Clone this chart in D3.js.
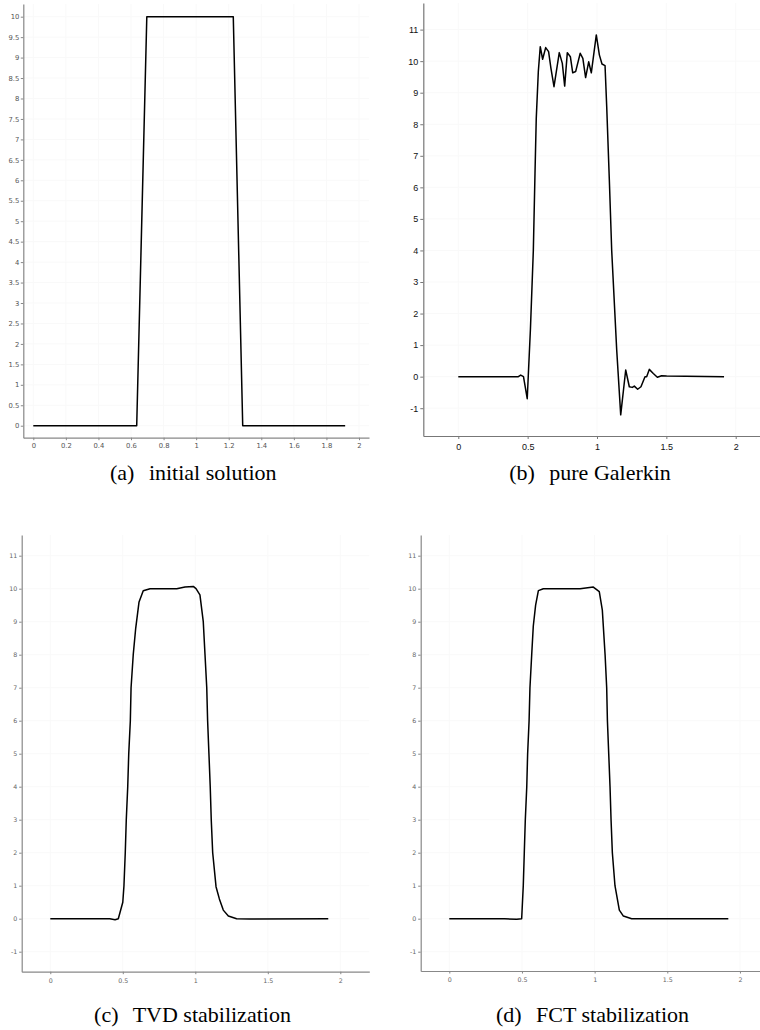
<!DOCTYPE html>
<html>
<head>
<meta charset="utf-8">
<script src="https://cdn.jsdelivr.net/npm/d3@7"></script>
<style>
  html, body { margin: 0; padding: 0; background: #fff; }
  svg { display: block; }
  .cap { font-family: "Liberation Serif", "Times New Roman", Times, "DejaVu Serif", serif; font-size: 22px; }
</style>
</head>
<body>
<svg id="chart" width="760" height="1030"></svg>
<script>
// ---------------- data ----------------
const xTicksA = [0, 0.2, 0.4, 0.6, 0.8, 1, 1.2, 1.4, 1.6, 1.8, 2];
const yTicksA = [0, 0.5, 1, 1.5, 2, 2.5, 3, 3.5, 4, 4.5, 5, 5.5, 6, 6.5, 7, 7.5, 8, 8.5, 9, 9.5, 10];
const xTicksB = [0, 0.5, 1, 1.5, 2];
const yTicksB = [-1, 0, 1, 2, 3, 4, 5, 6, 7, 8, 9, 10, 11];

const initialX = [0, 0.635, 0.697, 1.228, 1.286, 1.915];
const initialY = [0, 0, 10, 10, 0, 0];

const galerkinX = [0, 0.433, 0.45, 0.47, 0.497, 0.52, 0.541, 0.553, 0.562, 0.577, 0.591, 0.608, 0.630, 0.651, 0.668, 0.690,
  0.728, 0.750, 0.767, 0.786, 0.808, 0.825, 0.846, 0.879, 0.898, 0.918, 0.940, 0.959, 0.995, 1.017, 1.036, 1.058,
  1.070, 1.089, 1.106, 1.142, 1.171, 1.207, 1.233, 1.255, 1.269, 1.293, 1.317, 1.346, 1.358, 1.377, 1.406, 1.435,
  1.466, 1.502, 1.916];
const galerkinY = [0, 0, 0.05, 0.0, -0.7, 1.5, 4.0, 6.45, 8.17, 9.67, 10.46, 10.06, 10.43, 10.3, 9.77, 9.19,
  10.27, 9.93, 9.21, 10.27, 10.14, 9.63, 9.67, 10.25, 10.09, 9.48, 9.98, 9.63, 10.83, 10.2, 9.91, 9.86,
  8.56, 6.23, 4.0, 0.85, -1.21, 0.21, -0.32, -0.34, -0.3, -0.4, -0.32, 0, 0, 0.23, 0.1, -0.02,
  0.03, 0.02, 0];

const tvdX = [0, 0.41, 0.447, 0.469, 0.5, 0.508, 0.517, 0.524, 0.534, 0.541, 0.552, 0.557, 0.572, 0.589, 0.612, 0.641,
  0.688, 0.872, 0.929, 0.986, 1.005, 1.032, 1.055, 1.067, 1.079, 1.085, 1.094, 1.103, 1.11, 1.12, 1.143, 1.166,
  1.193, 1.228, 1.285, 1.377, 1.917];
const tvdY = [0, 0, -0.03, 0, 0.5, 1, 2, 3, 4, 5, 6, 7, 8, 8.8, 9.6, 9.94,
  10.0, 10.0, 10.05, 10.07, 10.0, 9.81, 9.0, 8, 7, 6, 5, 4, 3, 2, 0.97, 0.6,
  0.26, 0.08, 0.0, -0.01, 0];

const fctX = [0, 0.38, 0.464, 0.498, 0.509, 0.516, 0.523, 0.533, 0.539, 0.549, 0.555, 0.567, 0.578, 0.594, 0.613, 0.647,
  0.9, 0.991, 1.032, 1.053, 1.072, 1.083, 1.088, 1.097, 1.106, 1.113, 1.122, 1.14, 1.17, 1.198, 1.255, 1.92];
const fctY = [0, 0, -0.02, 0, 1, 2, 3, 4, 5, 6, 7, 8, 8.87, 9.5, 9.94, 10.0,
  10.0, 10.05, 9.91, 9.35, 8, 7, 6, 5, 4, 3, 2, 1, 0.26, 0.08, 0, 0];

const captions = [["(a)", "initial solution"], ["(b)", "pure Galerkin"], ["(c)", "TVD stabilization"], ["(d)", "FCT stabilization"]];

// ---------------- layout ----------------
const svg = d3.select("#chart");

const panels = [
  { xs: initialX, ys: initialY, xt: xTicksA, yt: yTicksA, cap: captions[0],
    xr: [23.3, 369], xd: [-0.0614, 2.0614], yr: [437.7, 4], yd: [-0.293, 10.31],
    font: "DejaVu Sans", fs: 6.8, lc: "#555", ac: "#888", ts: 2.5, pad: 1.5, xpad: 3,
    capX: 193.3, capY: 480 },
  { xs: galerkinX, ys: galerkinY, xt: xTicksB, yt: yTicksB, cap: captions[1],
    xr: [423.3, 760], xd: [-0.2523, 2.1752], yr: [436, 3], yd: [-1.881, 11.843],
    font: "Liberation Sans", fs: 9, lc: "#111", ac: "#777", ts: 3, pad: 2, xpad: 5,
    capX: 590, capY: 480 },
  { xs: tvdX, ys: tvdY, xt: xTicksB, yt: yTicksB, cap: captions[2],
    xr: [21.7, 369.3], xd: [-0.1972, 2.2], yr: [971.7, 535], yd: [-1.606, 11.627],
    font: "DejaVu Sans", fs: 6.3, lc: "#666", ac: "#888", ts: 2.5, pad: 2, xpad: 4,
    capX: 192.5, capY: 1021.5 },
  { xs: fctX, ys: fctY, xt: xTicksB, yt: yTicksB, cap: captions[3],
    xr: [420.7, 768], xd: [-0.1968, 2.193], yr: [971, 535], yd: [-1.585, 11.627],
    font: "DejaVu Sans", fs: 6.3, lc: "#666", ac: "#888", ts: 2.5, pad: 2, xpad: 4,
    capX: 592.5, capY: 1021.5 }
];

panels.forEach(p => {
  const x = d3.scaleLinear().domain(p.xd).range(p.xr);
  const y = d3.scaleLinear().domain(p.yd).range(p.yr);
  const g = svg.append("g");

  // very faint grid
  g.append("g").selectAll("line").data(p.xt).join("line")
    .attr("x1", d => x(d)).attr("x2", d => x(d))
    .attr("y1", p.yr[0]).attr("y2", p.yr[1])
    .attr("stroke", "#f9f9f9").attr("stroke-width", 1);
  g.append("g").selectAll("line").data(p.yt).join("line")
    .attr("y1", d => y(d)).attr("y2", d => y(d))
    .attr("x1", p.xr[0]).attr("x2", p.xr[1])
    .attr("stroke", "#f9f9f9").attr("stroke-width", 1);

  const xAxis = d3.axisBottom(x).tickValues(p.xt).tickFormat(d => String(d))
    .tickSizeInner(p.ts).tickSizeOuter(0).tickPadding(p.xpad);
  const yAxis = d3.axisLeft(y).tickValues(p.yt).tickFormat(d => String(d))
    .tickSizeInner(p.ts).tickSizeOuter(0).tickPadding(p.pad);

  const gx = g.append("g").attr("transform", `translate(0,${p.yr[0]})`).call(xAxis);
  const gy = g.append("g").attr("transform", `translate(${p.xr[0]},0)`).call(yAxis);
  [gx, gy].forEach(a => {
    a.select(".domain").attr("stroke", p.ac).attr("stroke-width", 1.2);
    a.selectAll(".tick line").attr("stroke", p.ac);
    a.selectAll(".tick text").attr("fill", p.lc)
      .style("font-family", p.font).style("font-size", p.fs + "px");
  });

  const pts = p.xs.map((v, i) => [v, p.ys[i]]);
  const line = d3.line().x(d => x(d[0])).y(d => y(d[1]));
  g.append("path").datum(pts).attr("d", line)
    .attr("fill", "none").attr("stroke", "#000").attr("stroke-width", 1.5)
    .attr("stroke-linejoin", "round");

  const t = g.append("text").attr("class", "cap").attr("x", p.capX).attr("y", p.capY)
    .attr("text-anchor", "middle").attr("fill", "#000");
  t.append("tspan").text(p.cap[0]);
  t.append("tspan").attr("dx", 9).text(" " + p.cap[1]);
});
</script>
</body>
</html>
